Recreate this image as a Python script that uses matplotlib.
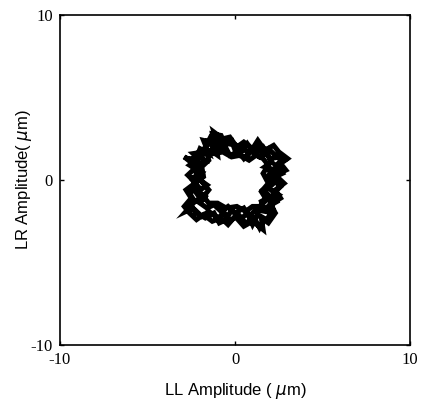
import matplotlib
matplotlib.use("Agg")
import matplotlib.pyplot as plt

# trajectory (LL amplitude, LR amplitude in um)
ll = [-2.4, -2.0, -2.6, -2.1, -2.4, -1.8, -1.6, -1.2, -1.3, -0.8, -0.6, -0.2, 0.0, 0.4, 0.8, 1.2, 1.5, 1.9, 2.3, 2.8,
      2.3, 2.7, 2.1, 2.6, 2.2, 2.4, 1.9, 2.1, 1.6, 1.4, 1.1, 0.6, 0.2, -0.3, -0.6, -1.0, -1.5, -1.9, -2.4, -2.8,
      -2.3, -2.6, -2.1, -2.5,
      -1.9, -2.2, -1.7, -2.0, -1.4, -1.0, -1.1, -0.5, -0.3, 0.2, 0.5, 0.9, 1.4, 1.8, 2.1, 1.7, 2.3, 1.8, 2.0, 1.6,
      2.0, 1.5, 1.7, 1.2, 0.8, 0.5, 0.0, -0.4, -0.8, -1.2, -1.6, -2.0, -1.7, -2.1, -1.6, -2.0,
      -2.3, -2.5, -1.9, -1.7, -1.4, -0.9, -0.9, -0.4, 0.1, 0.3, 0.7, 1.1, 1.6, 2.0, 2.6, 2.5, 2.0, 2.4, 1.9, 2.5,
      2.0, 2.2, 1.8, 1.3, 1.0, 0.7, 0.3, -0.2, -0.5, -0.9, -1.2, -1.7, -2.2, -2.6, -2.0, -2.4, -2.0, -2.4,
      -2.7, -2.2, -2.9, -2.3, -2.0, -1.5, -1.8, -1.0, -1.2, -0.7, -0.3, 0.1, 0.5, 1.0, 1.3, 1.7, 2.2, 2.5, 3.0, 2.6,
      2.9, 2.3, 2.8, 2.3, 2.6, 2.0, 2.3, 1.9, 1.5, 1.6, 1.0, 0.5, 0.0, -0.4, -0.8, -1.3, -1.8, -2.2, -2.6, -2.9,
      -2.5, -2.8, -2.3,
      -1.8, -1.9, -1.5, -1.6, -1.2, -0.7, -0.2, 0.3, 0.8, 1.2, 1.6, 1.9, 1.6, 1.9, 1.5, 1.8, 1.4, 1.0, 0.6, 0.1,
      -0.5, -1.0, -1.5, -1.8, -1.5, -1.9]
lr = [0.0, 0.5, 0.9, 1.3, 1.6, 1.7, 2.3, 2.0, 2.8, 2.7, 2.2, 2.4, 1.8, 2.0, 1.6, 2.1, 1.7, 1.9, 1.5, 1.2,
      0.9, 0.4, 0.1, -0.4, -0.8, -1.3, -1.6, -2.2, -2.5, -2.9, -2.3, -2.6, -2.1, -2.5, -2.0, -2.3, -1.9, -2.2, -1.7, -1.9,
      -1.3, -0.8, -0.4, 0.1,
      0.4, 1.0, 1.1, 1.5, 1.8, 1.5, 2.3, 1.9, 1.5, 1.7, 1.3, 1.8, 1.4, 1.6, 1.1, 0.8, 0.6, 0.2, -0.3, -0.6,
      -1.0, -1.3, -1.9, -1.8, -2.2, -1.7, -2.0, -1.6, -1.9, -1.5, -1.7, -1.4, -1.0, -0.7, -0.3, 0.0,
      0.6, 1.3, 1.4, 2.0, 2.6, 2.4, 1.9, 2.2, 2.1, 1.6, 2.2, 1.6, 2.0, 1.3, 1.4, 0.8, 0.5, 0.0, -0.5, -0.9,
      -1.3, -1.8, -2.4, -2.1, -2.7, -2.0, -2.4, -1.8, -2.4, -2.6, -2.0, -2.3, -2.0, -1.5, -1.1, -0.5, 0.2, 0.0,
      0.3, 0.8, 1.4, 1.1, 1.9, 1.6, 2.4, 2.2, 2.9, 2.5, 2.6, 2.0, 2.3, 1.9, 2.4, 1.8, 2.1, 1.7, 1.3, 1.0,
      0.6, 0.3, -0.2, -0.6, -1.1, -1.5, -2.0, -2.6, -2.3, -3.0, -2.5, -2.8, -2.2, -2.7, -2.3, -2.5, -2.1, -2.4, -2.0, -1.6,
      -1.1, -0.6, -0.2,
      0.2, 0.8, 1.2, 1.6, 1.6, 1.7, 1.4, 1.5, 1.2, 1.5, 1.3, 0.9, 0.4, -0.2, -0.7, -1.2, -1.6, -1.6, -1.9, -1.6,
      -1.7, -1.4, -1.4, -1.0, -0.6, -0.1]

ticks = [-10, 0, 10]
tick_labels = ["-10", "0", "10"]

fig = plt.figure(figsize=(4.22, 4.05), dpi=100)
ax = fig.add_axes([0.142, 0.148, 0.830, 0.815])
ax.plot(ll, lr, color="black", linewidth=3.6, solid_joinstyle="miter")
ax.set_xlim(-10, 10)
ax.set_ylim(-10, 10)
ax.set_xticks(ticks)
ax.set_yticks(ticks)
ax.set_xticklabels(tick_labels, family="Liberation Serif", fontsize=12)
ax.set_yticklabels(tick_labels, family="Liberation Serif", fontsize=12)
ax.tick_params(direction="in", top=True, right=True, length=3, width=1, pad=5)
for s in ax.spines.values():
    s.set_linewidth(1.2)
ax.set_xlabel(r"LL Amplitude ( $\mu$m)", family="Liberation Sans", fontsize=12, labelpad=9)
ax.set_ylabel(r"LR Amplitude( $\mu$m)", family="Liberation Sans", fontsize=12, labelpad=-2)
fig.savefig("out.png", dpi=100)
